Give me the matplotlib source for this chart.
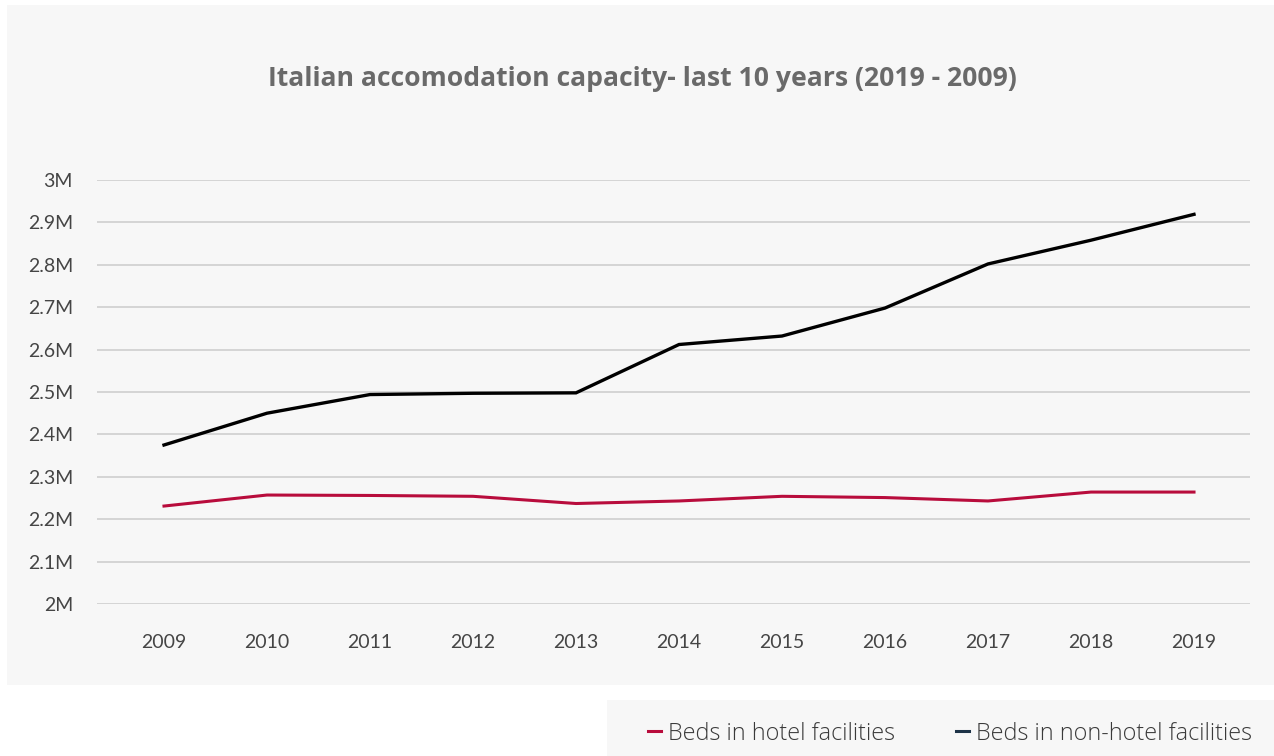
import matplotlib
matplotlib.use('Agg')
import matplotlib.pyplot as plt
from matplotlib.lines import Line2D
from matplotlib.patches import Rectangle
from matplotlib.ticker import FuncFormatter

years = [2009, 2010, 2011, 2012, 2013, 2014, 2015, 2016, 2017, 2018, 2019]
hotel_beds = [2231000, 2257000, 2256000, 2254000, 2237000, 2243000,
              2254000, 2251000, 2243000, 2264000, 2264000]
non_hotel_beds = [2375000, 2450000, 2494000, 2497000, 2498000, 2612000,
                  2632000, 2698000, 2802000, 2858000, 2919000]
series_labels = ['Beds in hotel facilities', 'Beds in non-hotel facilities']
y_ticks = [2000000 + 100000 * i for i in range(11)]

RED = '#b80c3c'
LINE_DARK = '#000000'
LEGEND_DARK = '#1d3347'
PANEL = '#f7f7f7'
W, H = 1274, 756

fig = plt.figure(figsize=(W / 100, H / 100), dpi=100)
fig.patch.set_facecolor('white')

# background panels for the chart and the legend strip
fig.patches.append(Rectangle((7 / W, 1 - 685 / H), (W - 7) / W, 680 / H,
                             transform=fig.transFigure, facecolor=PANEL,
                             edgecolor='none', zorder=-5))
fig.patches.append(Rectangle((607 / W, 0), (W - 607) / W, 56 / H,
                             transform=fig.transFigure, facecolor=PANEL,
                             edgecolor='none', zorder=-5))

ax = fig.add_axes([97 / W, 1 - 604 / H, (1250 - 97) / W, (604 - 180) / H])
ax.set_facecolor('none')
ax.set_zorder(2)

ax.plot(years, hotel_beds, color=RED, lw=2.2, solid_joinstyle='miter')
ax.plot(years, non_hotel_beds, color=LINE_DARK, lw=2.4, solid_joinstyle='miter')

ax.set_ylim(2000000, 3000000)
ax.set_xlim(2009 - 67 / 103, 2019 + 56 / 103)
ax.set_yticks(y_ticks)
ax.set_xticks(years)
ax.set_xticklabels([str(y) for y in years])


def millions(v, _pos):
    m = v / 1e6
    return f'{m:g}M'


ax.yaxis.set_major_formatter(FuncFormatter(millions))
ax.grid(axis='y', color='#d2d2d2', lw=1.3)
ax.set_axisbelow(True)
for s in ax.spines.values():
    s.set_visible(False)
ax.tick_params(axis='both', length=0, labelsize=14, labelcolor='#454545')
ax.tick_params(axis='y', pad=17.3)
ax.tick_params(axis='x', pad=21.5)
for lbl in ax.get_xticklabels() + ax.get_yticklabels():
    lbl.set_fontfamily('Lato')

fig.text(642 / W, 1 - 79.5 / H, 'Italian accomodation capacity- last 10 years (2019 - 2009)',
         ha='center', va='center', fontsize=19.1, fontweight='bold',
         color='#6a6a6a', family='Open Sans')

handles = [Line2D([], [], color=RED, lw=2.2),
           Line2D([], [], color=LEGEND_DARK, lw=2.2)]
fig.legend(handles, series_labels, loc='center', ncol=2,
           bbox_to_anchor=(950 / W, 1 - 733.5 / H), frameon=False,
           handlelength=0.55, handletextpad=0.3, columnspacing=2.6,
           prop={'family': 'Open Sans', 'size': 16.8, 'weight': 'light'},
           labelcolor='#3a3a3a')

fig.savefig('out.png', dpi=100, facecolor=fig.get_facecolor())
